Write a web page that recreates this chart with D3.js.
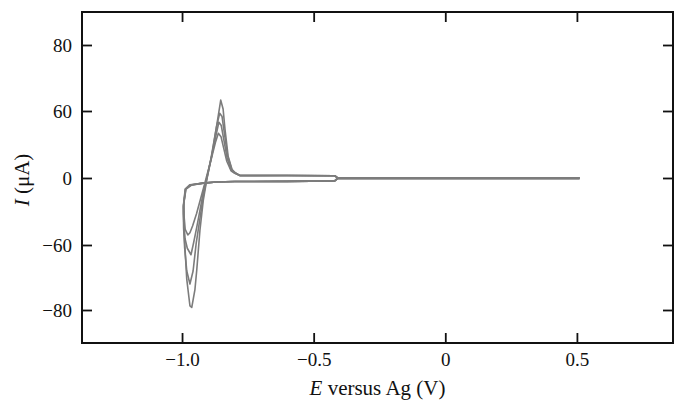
<!DOCTYPE html>
<html>
<head>
<meta charset="utf-8">
<script src="https://cdn.jsdelivr.net/npm/d3@7"></script>
<style>
  body { margin: 0; background: #fff; }
  svg { font-family: "Liberation Serif", "DejaVu Serif", serif; }
</style>
</head>
<body>
<svg id="chart" width="675" height="400"></svg>
<script>
// Tick labels as printed on the figure (the y labels are not evenly valued).
var xTicks = [-1.0, -0.5, 0, 0.5];
var yTicks = [80, 60, 0, -60, -80];

// Cyclic voltammograms, [E (V), I (uA)].
var cycle1 = [[0.51,-0.3],[-0.41,-0.5],[-0.42,-2.6],[-0.6,-3],[-0.8,-3.2],[-0.87,-3.6],[-0.92,-4.6],
  [-0.965,-6.5],[-0.985,-10],[-0.993,-22],[-0.992,-35],[-0.988,-46],[-0.978,-51],[-0.97,-49],
  [-0.96,-43],[-0.945,-32],[-0.93,-19],[-0.915,-6],[-0.905,3],[-0.89,16],[-0.873,32],[-0.862,40],
  [-0.852,37],[-0.842,27],[-0.83,15],[-0.814,6.5],[-0.8,4.2],[-0.78,2.2],[-0.6,2.2],[-0.42,2],
  [-0.41,0.3],[0.51,0.2]];
var cycle2 = [[0.51,-0.3],[-0.41,-0.5],[-0.42,-2.6],[-0.6,-3],[-0.8,-3.2],[-0.87,-3.6],[-0.92,-4.6],
  [-0.967,-6.3],[-0.986,-10],[-0.994,-24],[-0.993,-40],[-0.989,-54],[-0.98,-61],[-0.966,-63],
  [-0.956,-58],[-0.944,-44],[-0.932,-29],[-0.918,-11],[-0.906,0],[-0.89,17],[-0.872,37],[-0.86,50],
  [-0.851,47],[-0.841,34],[-0.829,18],[-0.813,7],[-0.8,4.5],[-0.78,2.2],[-0.6,2.2],[-0.42,2],
  [-0.41,0.3],[0.51,0.2]];
var cycle3 = [[0.51,-0.3],[-0.41,-0.5],[-0.42,-2.6],[-0.6,-3],[-0.8,-3.2],[-0.87,-3.6],[-0.92,-4.6],
  [-0.968,-6.2],[-0.987,-10],[-0.995,-26],[-0.994,-45],[-0.99,-61],[-0.982,-68],[-0.97,-72],
  [-0.958,-68],[-0.946,-58],[-0.933,-38],[-0.919,-16],[-0.906,-1],[-0.889,19],[-0.869,46],[-0.857,58],
  [-0.848,55],[-0.839,40],[-0.827,20],[-0.811,7.5],[-0.8,4.8],[-0.78,2.2],[-0.6,2.2],[-0.42,2],
  [-0.41,0.3],[0.51,0.2]];
var cycle4 = [[0.51,-0.3],[-0.41,-0.5],[-0.42,-2.6],[-0.6,-3],[-0.8,-3.2],[-0.87,-3.6],[-0.92,-4.6],
  [-0.97,-6],[-0.988,-10],[-0.995,-25],[-0.995,-31.5],[-0.989,-60.6],[-0.982,-70.6],[-0.97,-78.7],
  [-0.963,-79.2],[-0.951,-73.7],[-0.944,-67.6],[-0.932,-46.8],[-0.919,-19.5],[-0.906,-1.5],
  [-0.887,19.9],[-0.867,49],[-0.853,63.3],[-0.844,60.6],[-0.837,44],[-0.825,19.6],[-0.81,7.6],
  [-0.799,4.9],[-0.78,2.1],[-0.6,2.2],[-0.42,2],[-0.41,0.3],[0.51,0.2]];
var cycles = [cycle1, cycle2, cycle3, cycle4];

var svg = d3.select('#chart');
var mLeft = 82, mRight = 673, mTop = 12, mBottom = 343;

var x = d3.scaleLinear().domain([-1.38, 0.865]).range([mLeft, mRight]);
// Figure axis has equal spacing between its printed labels.
var y = d3.scaleLinear()
    .domain([-90, -80, -60, 0, 60, 80, 90])
    .range([mBottom, 310, 245, 178, 111, 45, mTop]);

var xFmt = function(d) { return d === 0 ? '0' : d3.format('.1f')(d); };

// Curves first, frame on top.
var line = d3.line()
    .x(function(d) { return x(d[0]); })
    .y(function(d) { return y(d[1]); });

svg.selectAll('path.cv')
    .data(cycles)
  .enter().append('path')
    .attr('class', 'cv')
    .attr('d', line)
    .style('fill', 'none')
    .style('stroke', '#7c7c7c')
    .style('stroke-width', 1.6)
    .style('stroke-linejoin', 'round');

function styleAxis(g) {
  g.selectAll('.domain').remove();
  g.selectAll('.tick line').style('stroke', '#111').style('stroke-width', 1.8);
  g.selectAll('.tick text').style('font-size', '19px').style('fill', '#111')
      .style('font-family', '"Liberation Serif", serif');
}

svg.append('g')
    .attr('transform', 'translate(0,' + mBottom + ')')
    .call(d3.axisBottom(x).tickValues(xTicks).tickFormat(xFmt).tickSizeInner(-10).tickSizeOuter(0).tickPadding(10))
    .call(styleAxis);
svg.append('g')
    .attr('transform', 'translate(0,' + mTop + ')')
    .call(d3.axisTop(x).tickValues(xTicks).tickFormat('').tickSizeInner(-10).tickSizeOuter(0))
    .call(styleAxis);
svg.append('g')
    .attr('transform', 'translate(' + mLeft + ',0)')
    .call(d3.axisLeft(y).tickValues(yTicks).tickFormat(d3.format('d')).tickSizeInner(-10).tickSizeOuter(0).tickPadding(10))
    .call(styleAxis);
svg.append('g')
    .attr('transform', 'translate(' + mRight + ',0)')
    .call(d3.axisRight(y).tickValues(yTicks).tickFormat('').tickSizeInner(-10).tickSizeOuter(0))
    .call(styleAxis);

svg.append('rect')
    .attr('x', mLeft).attr('y', mTop)
    .attr('width', mRight - mLeft).attr('height', mBottom - mTop)
    .style('fill', 'none')
    .style('stroke', '#111')
    .style('stroke-width', 2);

// Axis titles
var xt = svg.append('text')
    .attr('x', (mLeft + mRight) / 2)
    .attr('y', 395)
    .attr('text-anchor', 'middle')
    .style('font-size', '21px')
    .style('fill', '#111');
xt.append('tspan').style('font-style', 'italic').text('E');
xt.append('tspan').text(' versus Ag (V)');

var yt = svg.append('text')
    .attr('transform', 'translate(29,180) rotate(-90)')
    .attr('text-anchor', 'middle')
    .style('font-size', '21px')
    .style('fill', '#111');
yt.append('tspan').style('font-style', 'italic').text('I');
yt.append('tspan').text(' (μA)');
</script>
</body>
</html>
